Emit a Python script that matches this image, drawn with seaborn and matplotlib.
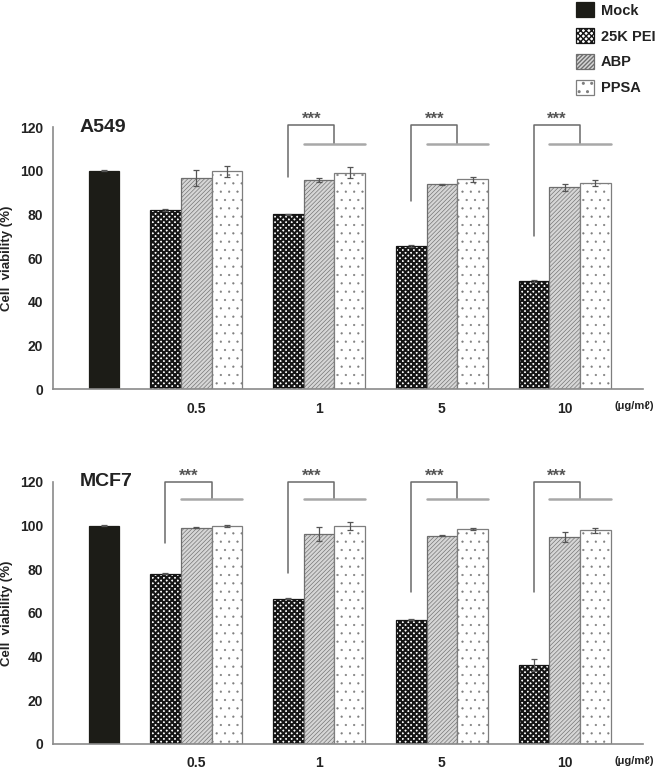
import numpy as np
import pandas as pd
import seaborn as sns
import matplotlib.pyplot as plt
import matplotlib.patches as mpatches

# Data
doses = ['0.5', '1', '5', '10']
treatments = ['Mock', '25K PEI', 'ABP', 'PPSA']

a549_mock = 100.0
a549_pei = [82.0, 80.0, 65.5, 49.5]
a549_abp = [96.8, 95.8, 93.8, 92.5]
a549_ppsa = [99.8, 99.0, 96.0, 94.3]
a549_pei_err = [0.5, 0.3, 0.4, 0.3]
a549_abp_err = [3.6, 1.0, 0.3, 1.6]
a549_ppsa_err = [2.5, 2.5, 1.0, 1.5]
a549_brackets = [None, 97, 86, 70]

mcf7_mock = 100.0
mcf7_pei = [78.0, 66.5, 57.0, 36.0]
mcf7_abp = [99.0, 96.3, 95.4, 94.8]
mcf7_ppsa = [99.8, 99.9, 98.6, 97.8]
mcf7_pei_err = [0.3, 0.2, 0.3, 2.8]
mcf7_abp_err = [0.3, 3.2, 0.3, 2.2]
mcf7_ppsa_err = [0.4, 1.8, 0.4, 1.3]
mcf7_brackets = [92, 78.5, 69.5, 69.5]

styles = {
    'Mock': dict(facecolor='#1c1c17', edgecolor='#1c1c17', hatch=None, hlw=0.5),
    '25K PEI': dict(facecolor='white', edgecolor='#151515', hatch='xxxxxx', hlw=1.5),
    'ABP': dict(facecolor='#d6d6d6', edgecolor='#6e6e6e', hatch='////////', hlw=0.45),
    'PPSA': dict(facecolor='white', edgecolor='#7e7e7e', hatch='..', hlw=0.35),
}


def build_frame(mock, pei, abp, ppsa, pei_e, abp_e, ppsa_e):
    rows = [dict(pos=0, treatment='Mock', value=mock, err=0.3)]
    for i, d in enumerate(doses):
        for j, (t, v, e) in enumerate(zip(treatments[1:], [pei[i], abp[i], ppsa[i]],
                                          [pei_e[i], abp_e[i], ppsa_e[i]])):
            rows.append(dict(pos=4 * i + 2 + j, treatment=t, value=v, err=e))
    return pd.DataFrame(rows)


def style_patch(p, t):
    s = styles[t]
    p.set_facecolor(s['facecolor'])
    p.set_edgecolor(s['edgecolor'])
    p.set_linewidth(0.9)
    if s['hatch']:
        p.set_hatch(s['hatch'])
    if hasattr(p, 'set_hatch_linewidth'):
        p.set_hatch_linewidth(s['hlw'])


def draw_panel(ax, df, title, brackets, top_y):
    sns.barplot(data=df, x='pos', y='value', hue='treatment', hue_order=treatments,
                palette=['#1c1c17', 'white', '#d6d6d6', 'white'], native_scale=True,
                dodge=False, width=1, errorbar=None, legend=False, ax=ax)
    pos2t = dict(zip(df['pos'], df['treatment']))
    for p in ax.patches:
        pos = int(round(p.get_x() + p.get_width() / 2))
        if pos in pos2t:
            style_patch(p, pos2t[pos])
    ax.errorbar(df['pos'], df['value'], yerr=df['err'], fmt='none', ecolor='#555555',
                elinewidth=0.9, capsize=2, capthick=0.9, zorder=5)

    # significance brackets
    for i, low in enumerate(brackets):
        if low is None:
            continue
        x_pei = 4 * i + 2
        x_mid = 4 * i + 3.5
        ax.plot([x_pei, x_pei, x_mid, x_mid], [low, top_y, top_y, 112],
                color='#6a6a6a', lw=1.1, clip_on=False)
        ax.plot([4 * i + 2.5, 4 * i + 4.5], [112, 112], color='#a8a8a8', lw=1.8,
                clip_on=False)
        ax.text((x_pei + x_mid) / 2, top_y - 0.8, '***', ha='center', va='bottom',
                fontsize=12, fontweight='bold', color='#555555')

    ax.set_xlim(-1.66, 17.55)
    ax.set_ylim(0, 120)
    ax.set_yticks(range(0, 121, 20))
    ax.set_xticks([4 * i + 3 for i in range(len(doses))])
    ax.set_xticklabels(doses, fontsize=10, fontweight='bold', color='#222222')
    ax.tick_params(axis='x', length=0, pad=9)
    ax.tick_params(axis='y', length=3, width=1, color='#888888', labelsize=10,
                   labelcolor='#222222', direction='out', pad=4)
    for lab in ax.get_yticklabels():
        lab.set_fontweight('bold')
    ax.set_xlabel('')
    ax.set_ylabel('Cell  viability (%)', fontsize=9.5, fontweight='bold',
                  color='#222222', labelpad=5)
    sns.despine(ax=ax)
    for sp in ['left', 'bottom']:
        ax.spines[sp].set_color('#8a8a8a')
        ax.spines[sp].set_linewidth(1.2)
    ax.text(-0.8, 120, title, ha='left', va='center', fontsize=14,
            fontweight='bold', color='#222222')
    ax.text(0.985, -0.065, '(\u03bcg/m\u2113)', transform=ax.transAxes, ha='center',
            va='center', fontsize=8, fontweight='bold', color='#222222')


sns.set_style('white')
plt.rcParams['font.family'] = ['Liberation Sans', 'DejaVu Sans']

fig = plt.figure(figsize=(6.66, 7.74), dpi=100)
ax1 = fig.add_axes([0.0796, 0.4974, 0.886, 0.3385])
ax2 = fig.add_axes([0.0796, 0.0388, 0.886, 0.3385])

df1 = build_frame(a549_mock, a549_pei, a549_abp, a549_ppsa,
                  a549_pei_err, a549_abp_err, a549_ppsa_err)
df2 = build_frame(mcf7_mock, mcf7_pei, mcf7_abp, mcf7_ppsa,
                  mcf7_pei_err, mcf7_abp_err, mcf7_ppsa_err)
draw_panel(ax1, df1, 'A549', a549_brackets, 121)
draw_panel(ax2, df2, 'MCF7', mcf7_brackets, 120)

handles = []
for t in treatments:
    h = mpatches.Patch(label=t)
    style_patch(h, t)
    handles.append(h)
leg = fig.legend(handles=handles, loc='upper left', bbox_to_anchor=(569 / 666, 1 + 5 / 774),
                 frameon=False, borderpad=0, handlelength=1.2, handleheight=1.2,
                 labelspacing=0.72, handletextpad=0.5,
                 prop=dict(size=10.5, weight='bold'))
for txt in leg.get_texts():
    txt.set_color('#222222')

fig.savefig('out.png', dpi=100)
